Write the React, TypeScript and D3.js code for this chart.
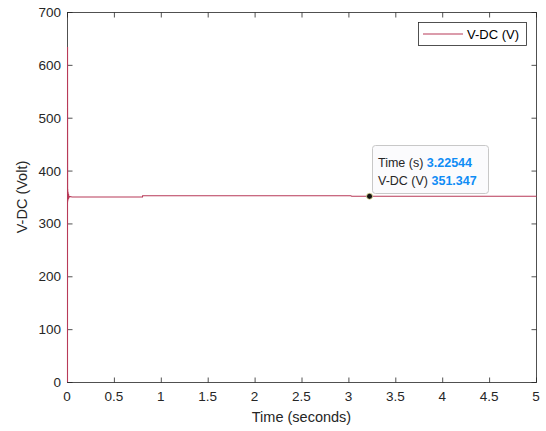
import React from "react";
import * as d3 from "d3";

const timeS = [0, 0.0004, 0.0008, 0.0015, 0.0025, 0.004, 0.006, 0.008, 0.011, 0.015, 0.02, 0.05, 0.3, 0.8, 0.801, 1.5, 2.5, 3.02, 3.03, 3.22544, 4, 5];
const voltV = [0, 634, 520, 340, 365, 343, 360, 346, 356, 349, 351, 350, 350, 350, 352.3, 352.3, 352.3, 352.3, 351.3, 351.347, 351.3, 351.3];
const xTicks = [0, 0.5, 1, 1.5, 2, 2.5, 3, 3.5, 4, 4.5, 5];
const yTicks = [0, 100, 200, 300, 400, 500, 600, 700];
const seriesName = "V-DC (V)";
const tipTime = 3.22544;
const tipVolt = 351.347;

const W = 546;
const H = 431;
const L = 67, R = 536, T = 12, B = 382;
const FONT = "'Liberation Sans', Arial, Helvetica, sans-serif";
const AX = "#262626";
const LINE = "#b83a58";

export default function App() {
  const x = d3.scaleLinear().domain([0, 5]).range([L, R]);
  const y = d3.scaleLinear().domain([0, 700]).range([B, T]);
  const pts: [number, number][] = timeS.map((t, i) => [t, voltV[i]]);
  const line = d3.line<[number, number]>().x(d => x(d[0]) + 0.5).y(d => y(d[1]));
  const tk = 5;
  const tx = x(tipTime), ty = y(tipVolt);
  return (
    <svg width={W} height={H} style={{ position: "absolute", left: 0, top: 0, background: "#fff" }} fontFamily={FONT}>
      <rect x={0} y={0} width={W} height={H} fill="#fff" />
      <defs>
        <clipPath id="clip"><rect x={L - 2} y={T - 2} width={R - L + 4} height={B - T + 4} /></clipPath>
      </defs>
      {/* box */}
      <rect x={L + 0.5} y={T + 0.5} width={R - L} height={B - T} fill="none" stroke={AX} strokeWidth={0.8} />
      {xTicks.map(t => (
        <g key={"x" + t}>
          <line x1={x(t) + 0.5} x2={x(t) + 0.5} y1={B + 0.5} y2={B + 0.5 - tk} stroke={AX} strokeWidth={0.8} />
          <line x1={x(t) + 0.5} x2={x(t) + 0.5} y1={T + 0.5} y2={T + 0.5 + tk} stroke={AX} strokeWidth={0.8} />
          <text x={x(t)} y={B + 19} textAnchor="middle" fontSize={13.5} fill={AX}>{String(t)}</text>
        </g>
      ))}
      {yTicks.map(v => (
        <g key={"y" + v}>
          <line x1={L + 0.5} x2={L + 0.5 + tk} y1={y(v) + 0.5} y2={y(v) + 0.5} stroke={AX} strokeWidth={0.8} />
          <line x1={R + 0.5} x2={R + 0.5 - tk} y1={y(v) + 0.5} y2={y(v) + 0.5} stroke={AX} strokeWidth={0.8} />
          <text x={L - 6} y={y(v) + 5} textAnchor="end" fontSize={13.5} fill={AX}>{String(v)}</text>
        </g>
      ))}
      <path d={line(pts) || ""} fill="none" stroke={LINE} strokeWidth={1.1} clipPath="url(#clip)" />
      <text x={(L + R) / 2} y={422} textAnchor="middle" fontSize={14.5} fill={AX}>Time (seconds)</text>
      <text transform={`translate(27,${(T + B) / 2}) rotate(-90)`} textAnchor="middle" fontSize={14.5} fill={AX}>V-DC (Volt)</text>
      {/* legend */}
      <rect x={418.5} y={22.5} width={108} height={23} fill="#fff" stroke={AX} strokeWidth={0.8} />
      <line x1={423} x2={463} y1={34} y2={34} stroke={LINE} strokeWidth={1.1} />
      <text x={467} y={39} fontSize={13} fill="#000">{seriesName}</text>
      {/* datatip */}
      <rect x={372.5} y={145.5} width={116} height={48} rx={3} fill="#fbfbfd" fillOpacity={0.95} stroke="#c8c8c8" strokeWidth={1} />
      <text x={378} y={167} fontSize={12.5} fill={AX}>Time (s) <tspan fill="#0f8cf5" fontWeight="bold">{String(tipTime)}</tspan></text>
      <text x={378} y={185} fontSize={12.5} fill={AX}>V-DC (V) <tspan fill="#0f8cf5" fontWeight="bold">{String(tipVolt)}</tspan></text>
      <circle cx={tx} cy={ty} r={3} fill="#111" stroke="#e8e8a0" strokeWidth={0.8} />
    </svg>
  );
}
